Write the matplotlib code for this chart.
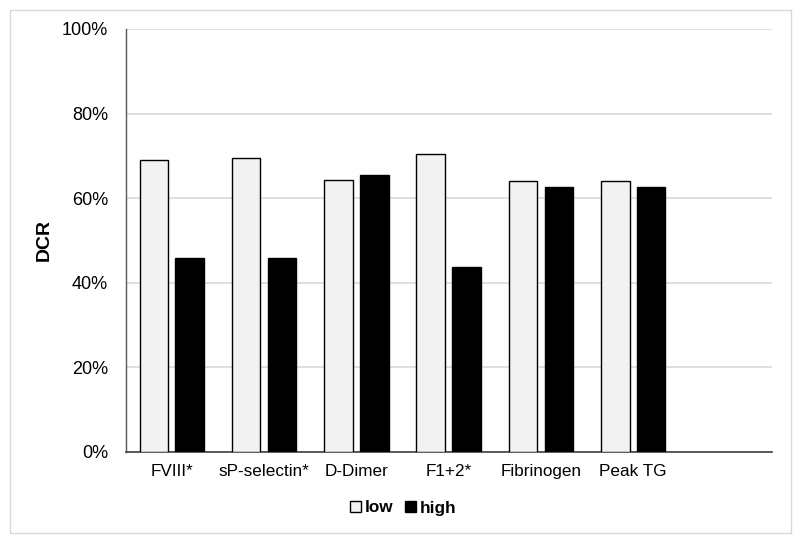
import numpy as np
import matplotlib
matplotlib.use("Agg")
import matplotlib.pyplot as plt
from matplotlib.patches import Rectangle
from matplotlib.ticker import PercentFormatter

plt.rcParams['font.family'] = ['Liberation Sans', 'DejaVu Sans']

categories = ["FVIII*", "sP-selectin*", "D-Dimer", "F1+2*", "Fibrinogen", "Peak TG"]
low = [68.9, 69.4, 64.4, 70.4, 64.1, 64.1]
high = [45.9, 45.9, 65.4, 43.6, 62.6, 62.6]
n_slots = 7  # chart keeps one empty category slot on the right

fig = plt.figure(figsize=(8, 5.43), dpi=100)
ax = fig.add_axes([0.157, 0.168, 0.8076, 0.7786])

x = np.arange(len(categories))
w = 0.31
off = 0.194
ax.bar(x - off, low, width=w, color="#f2f2f2", edgecolor="black", linewidth=1.0,
       label="low", zorder=3)
ax.bar(x + off, high, width=w, color="black", edgecolor="black", linewidth=1.0,
       label="high", zorder=3)

ax.set_xlim(-0.5, n_slots - 0.5)
ax.set_ylim(0, 100)
ax.set_yticks(np.arange(0, 101, 20))
ax.yaxis.set_major_formatter(PercentFormatter(decimals=0))
ax.set_xticks(x)
ax.set_xticklabels(categories)
ax.tick_params(axis="x", length=0, pad=9, labelsize=12.3, labelcolor="black")
ax.tick_params(axis="y", length=0, pad=12.5, labelsize=13, labelcolor="black")

ax.grid(axis="y", color="#d9d9d9", linewidth=1.2, zorder=0)
ax.set_axisbelow(True)
for s in ["top", "right"]:
    ax.spines[s].set_visible(False)
ax.spines["left"].set_color("#595959")
ax.spines["bottom"].set_color("#404040")
ax.spines["left"].set_linewidth(1.0)
ax.spines["bottom"].set_linewidth(1.2)

fig.text(44 / 800, 0.5 + (0.168 + 0.9466) / 2 - 0.5, "DCR", rotation=90, fontsize=14,
         fontweight="bold", ha="center", va="center")

leg = fig.legend(loc="center", bbox_to_anchor=(403 / 800, 1 - 508 / 543), ncol=2,
                 frameon=False, handlelength=0.65, handleheight=0.65,
                 handletextpad=0.2, columnspacing=0.7,
                 prop={"weight": "bold", "size": 12.3})

# light outer border of the chart area
fig.patches.append(Rectangle((9.5 / 800, 1 - 532.7 / 543), 781 / 800, 523 / 543,
                             transform=fig.transFigure, fill=False,
                             edgecolor="#d9d9d9", linewidth=1.0))

fig.savefig("out.png", dpi=100)
